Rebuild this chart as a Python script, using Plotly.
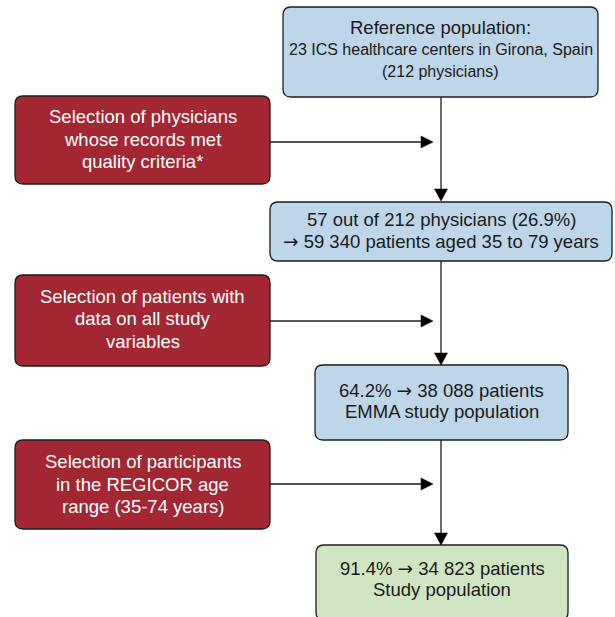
import plotly.graph_objects as go

# ---- data (texts) ----
ARROW = "<span style='font-family:DejaVu Sans'>\u2192</span>"
ref_title = "Reference population:"
ref_lines = ["23 ICS healthcare centers in Girona, Spain", "(212 physicians)"]
step1_lines = ["57 out of 212 physicians (26.9%)", ARROW + " 59 340 patients aged 35 to 79 years"]
step2_lines = ["64.2% " + ARROW + " 38 088 patients", "EMMA study population"]
step3_lines = ["91.4% " + ARROW + " 34 823 patients", "Study population"]
excl1_lines = ["Selection of physicians", "whose records met", "quality criteria*"]
excl2_lines = ["Selection of patients with", "data on all study", "variables"]
excl3_lines = ["Selection of participants", "in the REGICOR age", "range (35-74 years)"]

# ---- styles ----
BLUE = "#bed6e9"
RED = "#a32732"
GREEN = "#d0e6c2"
EDGE = "#1c1c1c"
FONT = "Liberation Sans, Arial, sans-serif"
W, H = 615, 617
SPINE_X = 441

fig = go.Figure()
shapes = []
annotations = []


def rrect(x0, y0, x1, y1, fill, r=8):
    p = (f"M {x0+r},{y0} L {x1-r},{y0} Q {x1},{y0} {x1},{y0+r} "
         f"L {x1},{y1-r} Q {x1},{y1} {x1-r},{y1} L {x0+r},{y1} "
         f"Q {x0},{y1} {x0},{y1-r} L {x0},{y0+r} Q {x0},{y0} {x0+r},{y0} Z")
    shapes.append(dict(type="path", path=p, xref="x", yref="y",
                       fillcolor=fill, line=dict(color=EDGE, width=1.3), layer="below"))


def text_lines(lines, xc, yc, size, color, spacing=22.3, sizes=None):
    n = len(lines)
    for i, t in enumerate(lines):
        y = yc + (i - (n - 1) / 2) * spacing
        s = sizes[i] if sizes else size
        annotations.append(dict(x=xc, y=y, xref="x", yref="y", text=t, showarrow=False,
                                font=dict(family=FONT, size=s, color=color),
                                xanchor="center", yanchor="middle"))


def line(x0, y0, x1, y1):
    shapes.append(dict(type="line", x0=x0, y0=y0, x1=x1, y1=y1, xref="x", yref="y",
                       line=dict(color=EDGE, width=1.3)))


def head_down(x, ytip, w=6.5, h=12):
    shapes.append(dict(type="path", path=f"M {x-w},{ytip-h} L {x+w},{ytip-h} L {x},{ytip} Z",
                       xref="x", yref="y", fillcolor="black", line=dict(color="black", width=0.5)))


def head_right(xtip, y, w=6, h=12):
    shapes.append(dict(type="path", path=f"M {xtip-h},{y-w} L {xtip-h},{y+w} L {xtip},{y} Z",
                       xref="x", yref="y", fillcolor="black", line=dict(color="black", width=0.5)))


# main boxes
rrect(283, 7, 598, 97, BLUE)
text_lines([ref_title] + ref_lines, 440.5, 49, 16, "#1a1a1a", spacing=22, sizes=[18.5, 16, 16])

rrect(270, 202, 612, 261, BLUE)
text_lines(step1_lines, 441, 230.5, 18.5, "#1a1a1a", spacing=21.5)

rrect(315, 365, 568, 440, BLUE)
text_lines(step2_lines, 441.5, 401, 18.5, "#1a1a1a", spacing=21.5)

rrect(316, 545, 568, 620, GREEN)
text_lines(step3_lines, 442, 579, 18.5, "#1a1a1a", spacing=21.5)

# exclusion boxes
rrect(15, 96, 270, 184, RED)
text_lines(excl1_lines, 142.5, 139, 18.5, "white", spacing=22.5)

rrect(15, 275, 270, 366, RED)
text_lines(excl2_lines, 142.5, 318.5, 18.5, "white", spacing=22.5)

rrect(15, 440, 270, 529, RED)
text_lines(excl3_lines, 142.5, 484, 18.5, "white", spacing=22.5)

# connectors
line(SPINE_X, 97, SPINE_X, 190)
head_down(SPINE_X, 201)
line(SPINE_X, 261, SPINE_X, 354)
head_down(SPINE_X, 365)
line(SPINE_X, 440, SPINE_X, 534)
head_down(SPINE_X, 545)

line(270, 142, 422, 142)
head_right(433, 142)
line(270, 321, 422, 321)
head_right(433, 321)
line(270, 484, 422, 484)
head_right(433, 484)

fig.update_layout(
    width=W, height=H,
    margin=dict(l=0, r=0, t=0, b=0),
    paper_bgcolor="white", plot_bgcolor="white",
    xaxis=dict(range=[0, W], visible=False, fixedrange=True),
    yaxis=dict(range=[H, 0], visible=False, fixedrange=True),
    shapes=shapes, annotations=annotations, showlegend=False,
)
fig.write_html("out.html", config={"displayModeBar": False},
               post_script="document.body.style.margin='0';document.body.style.overflow='hidden';")
